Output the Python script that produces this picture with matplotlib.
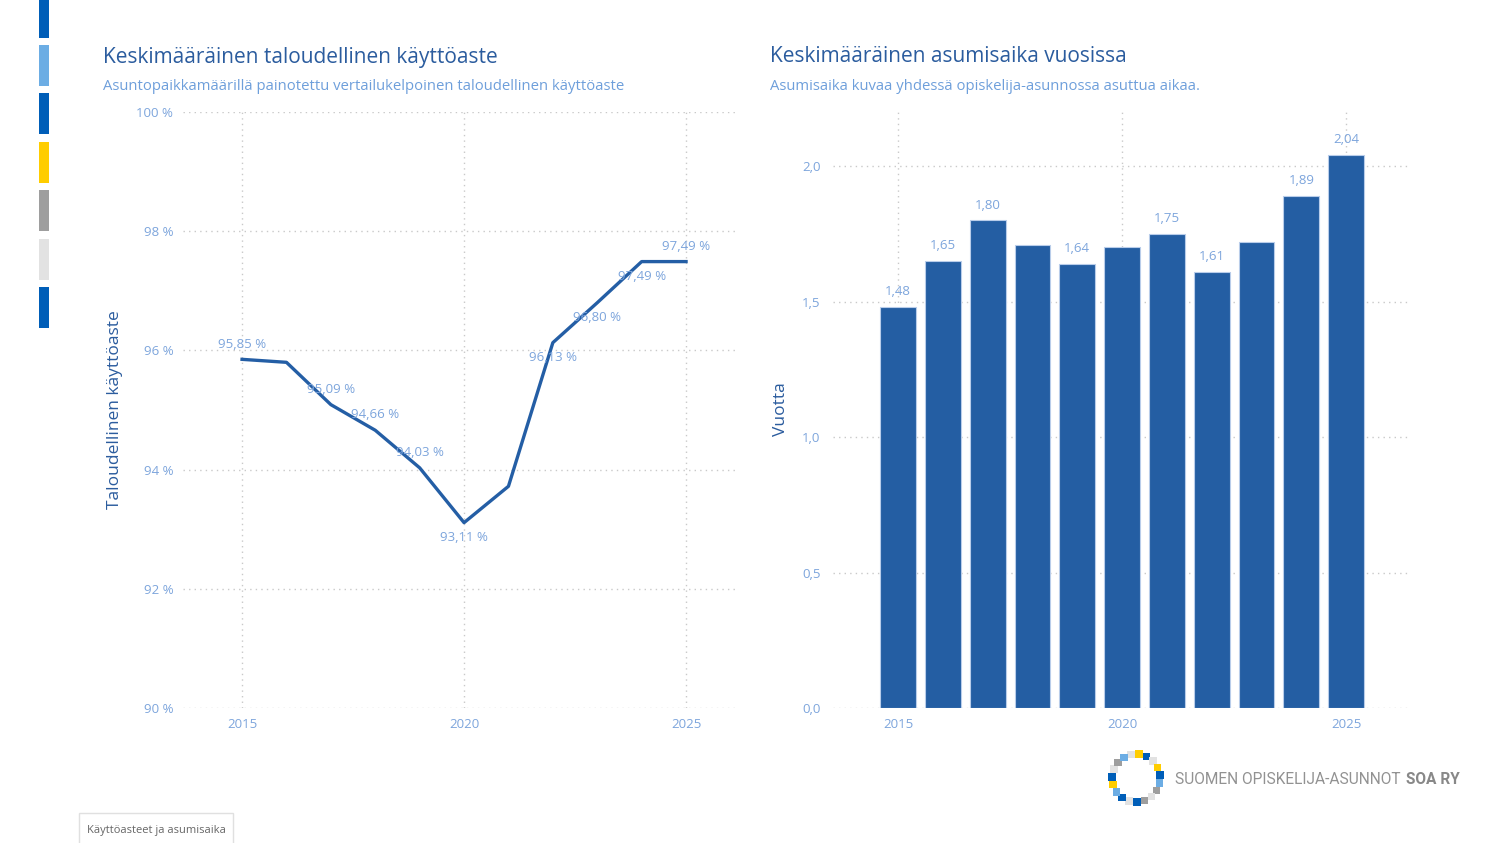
import numpy as np
import matplotlib.pyplot as plt
from matplotlib.patches import Rectangle

years = [2015, 2016, 2017, 2018, 2019, 2020, 2021, 2022, 2023, 2024, 2025]
kayttoaste = [95.85, 95.80, 95.09, 94.66, 94.03, 93.11, 93.72, 96.13, 96.80, 97.49, 97.49]
# which points carry a label, and where: 1 above, -1 below, 0 none
kaytto_label_pos = [1, 0, 1, 1, 1, -1, 0, -1, -1, -1, 1]

asumisaika = [1.48, 1.65, 1.80, 1.71, 1.64, 1.70, 1.75, 1.61, 1.72, 1.89, 2.04]
asumis_labeled = [1, 1, 1, 0, 1, 0, 1, 1, 0, 1, 1]

side_colors = ['#005EB8', '#6CADE4', '#005EB8', '#FFCD00', '#9E9E9E', '#E2E2E2', '#005EB8']
logo_colors = ['#E2E2E2', '#FFCD00', '#005EB8', '#E2E2E2', '#FFCD00', '#005EB8', '#6CADE4',
               '#9E9E9E', '#E2E2E2', '#9E9E9E', '#005EB8', '#E2E2E2', '#005EB8', '#6CADE4',
               '#FFCD00', '#005EB8', '#E2E2E2', '#9E9E9E', '#6CADE4']

TITLE = '#2B5C9E'
SUB = '#6E9FDB'
TICK = '#7DA5DC'
LINE = '#245EA5'
GRID = '#C9C9C9'

plt.rcParams['font.family'] = ['Open Sans', 'DejaVu Sans']

W, H = 1504, 843
fig = plt.figure(figsize=(W / 100, H / 100), dpi=100)


def ax_rect(x0, y0, x1, y1):
    return [x0 / W, 1 - y1 / H, (x1 - x0) / W, (y1 - y0) / H]


def comma(v, fmt):
    return fmt.format(v).replace('.', ',')


# left strip of colour blocks
strip = fig.add_axes([0, 0, 1, 1])
strip.set_xlim(0, W)
strip.set_ylim(H, 0)
strip.axis('off')
tops = [0, 45, 93, 142, 190, 239, 287]
for t, c in zip(tops, side_colors):
    h = 38 if t == 0 else 41
    strip.add_patch(Rectangle((39, t), 10, h, color=c, lw=0))

# logo ring
cx, cy, r = 1136, 778, 24
n = len(logo_colors)
for i, c in enumerate(logo_colors):
    a = np.pi / 2 + 0.2 - 2 * np.pi * i / n
    x = cx + r * np.cos(a)
    y = cy - r * np.sin(a)
    strip.add_patch(Rectangle((x - 3.8, y - 3.8), 7.6, 7.6, color=c, lw=0))
logo1 = strip.text(1175, 779, 'SUOMEN OPISKELIJA-ASUNNOT', fontsize=11.2, color='#929292',
                   va='center', ha='left', fontweight='normal', family=['Roboto', 'DejaVu Sans'])
fig.canvas.draw()
bb = logo1.get_window_extent()
strip.text(bb.x1 + 5, H - 779, 'SOA RY', fontsize=11.2, color='#888888', va='center',
           ha='left', fontweight='bold', family=['Roboto', 'DejaVu Sans'], transform=None)

# bottom tab
strip.add_patch(Rectangle((79, 813), 154, 32, facecolor='white', edgecolor='#E0E0E0', lw=1))
strip.text(156, 830, 'Käyttöasteet ja asumisaika', fontsize=8, color='#666666',
           ha='center', va='center')

# titles
fig.text(103 / W, 1 - 57 / H, 'Keskimääräinen taloudellinen käyttöaste', fontsize=15,
         color=TITLE, va='center')
fig.text(103 / W, 1 - 87 / H, 'Asuntopaikkamäärillä painotettu vertailukelpoinen taloudellinen käyttöaste',
         fontsize=10.7, color=SUB, va='center')
fig.text(770 / W, 1 - 57 / H, 'Keskimääräinen asumisaika vuosissa', fontsize=15,
         color=TITLE, va='center')
fig.text(770 / W, 1 - 87 / H, 'Asumisaika kuvaa yhdessä opiskelija-asunnossa asuttua aikaa.',
         fontsize=10.7, color=SUB, va='center')

# ---- line chart
ax1 = fig.add_axes(ax_rect(183, 112, 738, 708))
ax1.plot(years, kayttoaste, color=LINE, lw=2.4, solid_joinstyle='round', zorder=3)
for x, v, p in zip(years, kayttoaste, kaytto_label_pos):
    if p == 0:
        continue
    ax1.annotate(comma(v, '{:.2f}') + ' %', (x, v), xytext=(0, 11 * p), textcoords='offset points',
                 ha='center', va='center', fontsize=9.5, color=TICK, zorder=4)
ax1.set_xlim(2013.67, 2026.17)
ax1.set_ylim(90, 100)
ax1.set_yticks([90, 92, 94, 96, 98, 100])
ax1.set_yticklabels([f'{t} %' for t in [90, 92, 94, 96, 98, 100]])
ax1.set_xticks([2015, 2020, 2025])
ax1.set_ylabel('Taloudellinen käyttöaste', fontsize=12.5, color=TITLE)
ax1.yaxis.set_label_coords(-0.109, 0.5)

# ---- bar chart
ax2 = fig.add_axes(ax_rect(833, 110, 1408, 708))
ax2.bar(years, asumisaika, width=0.8, color='#245EA3', edgecolor='#B9CDEA', lw=0.8, zorder=3)
for x, v, lab in zip(years, asumisaika, asumis_labeled):
    if lab:
        ax2.annotate(comma(v, '{:.2f}'), (x, v), xytext=(0, 11), textcoords='offset points',
                     ha='center', va='center', fontsize=9.5, color=TICK, zorder=4)
ax2.set_xlim(2013.55, 2026.38)
ax2.set_ylim(0, 2.207)
ax2.set_yticks([0, 0.5, 1.0, 1.5, 2.0])
ax2.set_yticklabels([comma(t, '{:.1f}') for t in [0, 0.5, 1.0, 1.5, 2.0]])
ax2.set_xticks([2015, 2020, 2025])
ax2.set_ylabel('Vuotta', fontsize=12.5, color=TITLE)
ax2.yaxis.set_label_coords(-0.077, 0.5)

for ax, pad in ((ax1, 7), (ax2, 9)):
    for s in ax.spines.values():
        s.set_visible(False)
    ax.grid(True, color=GRID, ls=(0, (1, 3)), lw=1, zorder=0)
    ax.set_axisbelow(True)
    ax.tick_params(length=0, labelsize=9.5, colors=TICK)
    ax.tick_params(axis='y', pad=pad)
    ax.tick_params(axis='x', pad=7)

fig.savefig('out.png', dpi=100)
